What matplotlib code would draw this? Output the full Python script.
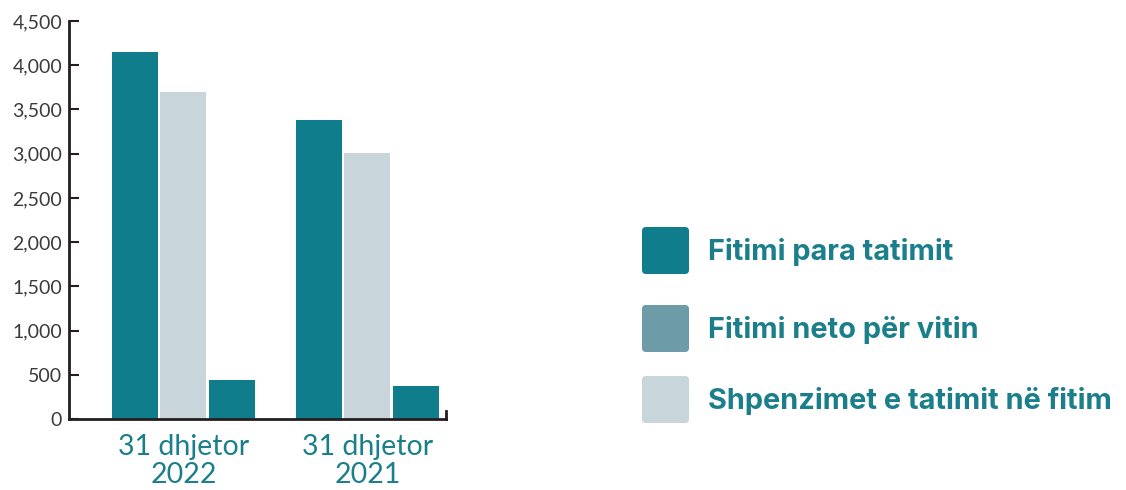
import matplotlib
matplotlib.use('Agg')
import matplotlib.pyplot as plt
from matplotlib.patches import FancyBboxPatch
import numpy as np

# data
categories = ['31 dhjetor\n2022', '31 dhjetor\n2021']
fitimi_para = [4150, 3380]
fitimi_neto = [3700, 3010]
shpenzimet = [445, 370]
series = [fitimi_para, fitimi_neto, shpenzimet]
# colours as drawn on the bars (the source chart colours them this way)
bar_colors = ['#107d8c', '#c8d5db', '#107d8c']

legend_labels = ['Fitimi para tatimit', 'Fitimi neto për vitin', 'Shpenzimet e tatimit në fitim']
legend_colors = ['#107d8c', '#6e9ba8', '#c8d5db']

yticks = [0, 500, 1000, 1500, 2000, 2500, 3000, 3500, 4000, 4500]

teal_text = '#1a7f8b'
axis_col = '#231f20'

fig = plt.figure(figsize=(11.26, 4.9), dpi=100)
ax = fig.add_axes([69/1126, 1 - 419/490, (446 - 69)/1126, (419 - 21)/490])

x = np.arange(len(categories))
w = 0.25
pitch = 0.264
for i, (vals, col) in enumerate(zip(series, bar_colors)):
    ax.bar(x + (i - 1) * pitch, vals, width=w, color=col, zorder=2)

ax.set_xlim(-0.622, 1.427)
ax.set_ylim(0, 4500)
ax.set_yticks(yticks)
ax.set_yticklabels([f'{v:,}' for v in yticks], fontsize=14, color='#3b3b3b',
                   family=['Lato', 'DejaVu Sans'])
ax.tick_params(axis='y', direction='in', length=7, width=1.5, color=axis_col, pad=5)
ax.set_xticks(x)
ax.set_xticklabels(categories, fontsize=20.5, color=teal_text, linespacing=1.08,
                   family=['Lato', 'DejaVu Sans'])
ax.tick_params(axis='x', length=0, pad=11)

ax.spines['top'].set_visible(False)
for s in ['left', 'bottom', 'right']:
    ax.spines[s].set_color(axis_col)
    ax.spines[s].set_linewidth(2)
ax.spines['right'].set_bounds(0, 95)

# legend drawn in pixel coordinates
lax = fig.add_axes([0, 0, 1, 1])
lax.set_xlim(0, 1126)
lax.set_ylim(490, 0)
lax.axis('off')
tops = [227, 305, 376]
for top, lab, col in zip(tops, legend_labels, legend_colors):
    lax.add_patch(FancyBboxPatch((642 + 4, top + 4), 47 - 8, 47 - 8,
                                 boxstyle='round,pad=4', color=col, lw=0))
    lax.text(708, top + 25, lab, fontsize=20.8, fontweight='bold', color=teal_text,
             va='center', ha='left', family=['Inter', 'DejaVu Sans'])

fig.savefig('out.png', dpi=100)
